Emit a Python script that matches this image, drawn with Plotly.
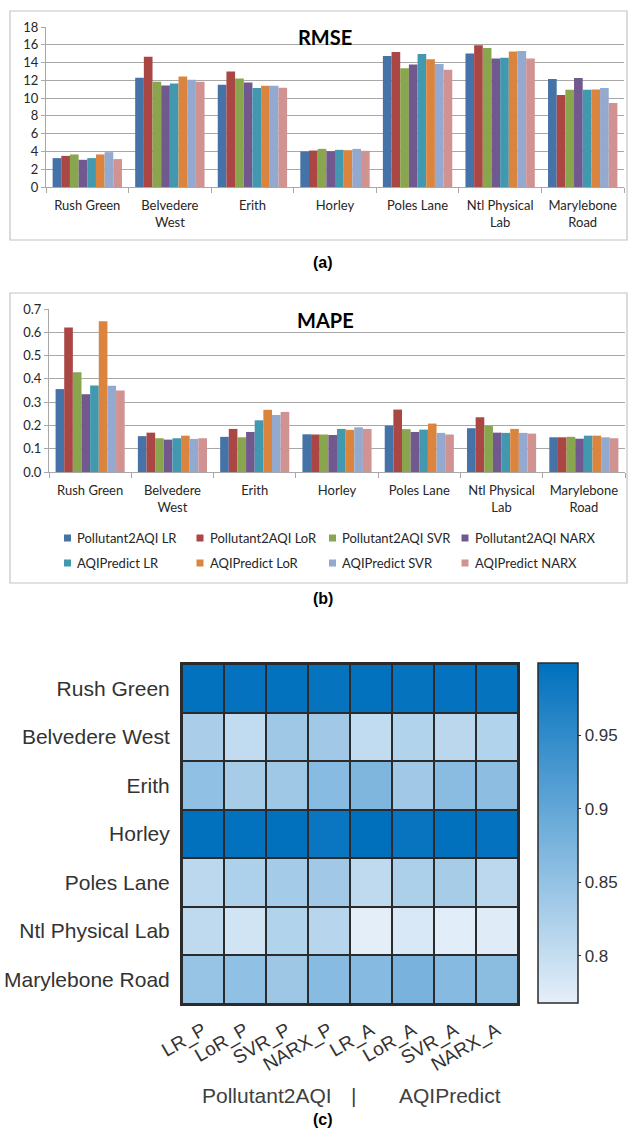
import plotly.graph_objects as go

W, H = 630, 1130

# ---------------------------------------------------------------- data
stations = ["Rush Green", "Belvedere West", "Erith", "Horley",
            "Poles Lane", "Ntl Physical Lab", "Marylebone Road"]
station_ticks = ["Rush Green", "Belvedere<br>West", "Erith", "Horley",
                 "Poles Lane", "Ntl Physical<br>Lab", "Marylebone<br>Road"]

series_names = ["Pollutant2AQI LR", "Pollutant2AQI LoR", "Pollutant2AQI SVR",
                "Pollutant2AQI NARX", "AQIPredict LR", "AQIPredict LoR",
                "AQIPredict SVR", "AQIPredict NARX"]
series_colors = ["#4572A7", "#AA4643", "#89A54E", "#71588F",
                 "#4198AF", "#DB843D", "#93A9CF", "#D19392"]

# RMSE per station
rmse_p_lr = [3.25, 12.28, 11.50, 4.00, 14.75, 15.01, 12.14]
rmse_p_lor = [3.50, 14.64, 13.00, 4.10, 15.20, 15.94, 10.34]
rmse_p_svr = [3.66, 11.84, 12.20, 4.29, 13.37, 15.65, 10.94]
rmse_p_narx = [3.06, 11.43, 11.76, 4.03, 13.78, 14.45, 12.25]
rmse_a_lr = [3.25, 11.65, 11.13, 4.18, 14.97, 14.53, 10.94]
rmse_a_lor = [3.66, 12.43, 11.39, 4.14, 14.38, 15.24, 10.98]
rmse_a_svr = [3.92, 12.06, 11.39, 4.29, 13.85, 15.31, 11.13]
rmse_a_narx = [3.14, 11.84, 11.17, 4.07, 13.18, 14.45, 9.45]

# MAPE per station
mape_p_lr = [0.356, 0.154, 0.151, 0.162, 0.199, 0.188, 0.149]
mape_p_lor = [0.621, 0.169, 0.185, 0.161, 0.268, 0.235, 0.149]
mape_p_svr = [0.428, 0.145, 0.149, 0.161, 0.184, 0.198, 0.151]
mape_p_narx = [0.334, 0.139, 0.172, 0.159, 0.172, 0.169, 0.143]
mape_a_lr = [0.372, 0.145, 0.222, 0.185, 0.182, 0.168, 0.156]
mape_a_lor = [0.647, 0.156, 0.267, 0.181, 0.208, 0.185, 0.156]
mape_a_svr = [0.370, 0.142, 0.245, 0.192, 0.168, 0.168, 0.149]
mape_a_narx = [0.350, 0.145, 0.258, 0.185, 0.161, 0.165, 0.145]

# R per station (rows) and model (columns)
models = ["LR_P", "LoR_P", "SVR_P", "NARX_P", "LR_A", "LoR_A", "SVR_A", "NARX_A"]
r_rush_green = [0.997, 0.995, 0.996, 0.994, 0.996, 0.993, 0.995, 0.994]
r_belvedere_west = [0.828, 0.804, 0.839, 0.837, 0.804, 0.819, 0.811, 0.819]
r_erith = [0.854, 0.832, 0.839, 0.862, 0.872, 0.837, 0.860, 0.857]
r_horley = [0.998, 0.997, 0.998, 0.989, 0.999, 0.991, 0.998, 0.995]
r_poles_lane = [0.810, 0.823, 0.834, 0.837, 0.806, 0.824, 0.832, 0.810]
r_ntl_physical_lab = [0.806, 0.788, 0.819, 0.814, 0.770, 0.781, 0.772, 0.774]
r_marylebone_road = [0.847, 0.854, 0.840, 0.862, 0.864, 0.877, 0.864, 0.859]

colorbar_ticks = [0.8, 0.85, 0.9, 0.95]
r_min, r_max = 0.768, 0.999

rmse_series = [rmse_p_lr, rmse_p_lor, rmse_p_svr, rmse_p_narx,
               rmse_a_lr, rmse_a_lor, rmse_a_svr, rmse_a_narx]
mape_series = [mape_p_lr, mape_p_lor, mape_p_svr, mape_p_narx,
               mape_a_lr, mape_a_lor, mape_a_svr, mape_a_narx]
r_matrix = [r_rush_green, r_belvedere_west, r_erith, r_horley,
            r_poles_lane, r_ntl_physical_lab, r_marylebone_road]


# ---------------------------------------------------------------- helpers
def px(x):
    return x / W


def py(y):
    return 1 - y / H


BAR_FONT = "Lato, 'Open Sans', sans-serif"
HM_FONT = "'Liberation Sans', Arial, sans-serif"
TXT = "#262626"
GRID = "#a8a8a8"

fig = go.Figure()

# ---------------------------------------------------------------- (a) RMSE bars
for name, color, vals in zip(series_names, series_colors, rmse_series):
    fig.add_trace(go.Bar(x=station_ticks, y=vals, name=name, marker_color=color,
                         marker_line_width=0, xaxis="x", yaxis="y",
                         showlegend=False))

# ---------------------------------------------------------------- (b) MAPE bars
for name, color, vals in zip(series_names, series_colors, mape_series):
    fig.add_trace(go.Bar(x=station_ticks, y=vals, name=name, marker_color=color,
                         marker_line_width=0, xaxis="x2", yaxis="y2",
                         showlegend=False))

# ---------------------------------------------------------------- (c) heatmap
fig.add_trace(go.Heatmap(
    z=r_matrix, x=models, y=stations, xaxis="x3", yaxis="y3",
    zmin=r_min, zmax=r_max, xgap=2, ygap=2,
    colorscale=[[0, "rgb(229,239,249)"], [1, "rgb(0,112,189)"]],
    colorbar=dict(
        x=px(538), xanchor="left", y=py(1003), yanchor="bottom",
        len=340 / H, lenmode="fraction", thickness=40, thicknessmode="pixels",
        outlinewidth=1.5, outlinecolor="#2b2b2b", xpad=0, ypad=0,
        tickvals=colorbar_ticks, ticktext=[f"{v:g}" for v in colorbar_ticks],
        ticks="outside", ticklen=3, tickcolor="#2b2b2b",
        tickfont=dict(family=HM_FONT, size=17, color="#333333"),
    ),
    hoverongaps=False,
))

bar_xaxis = dict(type="category", tickson="boundaries", ticks="outside",
                 ticklen=5, tickcolor=GRID, showline=True, linecolor=GRID,
                 linewidth=1, showgrid=False, zeroline=False, automargin=False,
                 ticklabelstandoff=6,
                 tickfont=dict(family=BAR_FONT, size=13, color=TXT))
bar_yaxis = dict(ticks="outside", ticklen=4, tickcolor=GRID, showline=True,
                 linecolor=GRID, linewidth=1, showgrid=True, gridcolor=GRID,
                 gridwidth=1, zeroline=False, automargin=False,
                 tickfont=dict(family=BAR_FONT, size=13, color=TXT))

fig.update_layout(
    width=W, height=H, autosize=False,
    margin=dict(l=0, r=0, t=0, b=0, pad=0, autoexpand=False),
    paper_bgcolor="white", plot_bgcolor="white",
    barmode="group", bargap=0.16, bargroupgap=0,
    showlegend=False,
    xaxis=dict(bar_xaxis, domain=[px(46), px(624)], anchor="y"),
    yaxis=dict(bar_yaxis, domain=[py(187), py(27)], anchor="x",
               range=[0, 18], dtick=2),
    xaxis2=dict(bar_xaxis, domain=[px(49), px(625)], anchor="y2"),
    yaxis2=dict(bar_yaxis, domain=[py(472), py(309)], anchor="x2",
                range=[0, 0.7], dtick=0.1, tickformat=".1f"),
    xaxis3=dict(domain=[px(182), px(518)], anchor="y3", type="category",
                tickangle=-30, ticks="", showline=True, mirror=True,
                linecolor="#2b2b2b", linewidth=2, showgrid=False,
                zeroline=False, automargin=False, ticklabelstandoff=6,
                tickfont=dict(family=HM_FONT, size=19, color="#333333")),
    yaxis3=dict(domain=[py(1004), py(664)], anchor="x3", type="category",
                autorange="reversed", ticks="", showline=True, mirror=True,
                linecolor="#2b2b2b", linewidth=2, showgrid=False,
                zeroline=False, ticklabelstandoff=6, automargin=False,
                tickfont=dict(family=HM_FONT, size=21, color="#333333")),
)

shapes = []
# chart frames
for top, bottom in [(11, 240), (293, 583)]:
    shapes.append(dict(type="rect", xref="paper", yref="paper",
                       x0=px(10), x1=px(627), y0=py(bottom), y1=py(top),
                       line=dict(color="#c4c4c4", width=1.2),
                       fillcolor="rgba(0,0,0,0)", layer="below"))
# dark backing behind heatmap cells so the gaps read as cell borders
shapes.append(dict(type="rect", xref="x3 domain", yref="y3 domain",
                   x0=0, x1=1, y0=0, y1=1, line=dict(width=0),
                   fillcolor="#2b2b2b", layer="below"))


def label(text, x, y, family, size, color):
    return dict(text=text, x=px(x), y=py(y), xref="paper", yref="paper",
                xanchor="center", yanchor="middle", showarrow=False,
                font=dict(family=family, size=size, color=color))


annotations = [
    label("<b>RMSE</b>", 325, 37, BAR_FONT, 20, "black"),
    label("<b>MAPE</b>", 325, 320, BAR_FONT, 20, "black"),
    label("<b>(a)</b>", 323, 262, HM_FONT, 16, "black"),
    label("<b>(b)</b>", 323, 598, HM_FONT, 16, "black"),
    label("<b>(c)</b>", 323, 1119, HM_FONT, 16, "black"),
    label("Pollutant2AQI", 267, 1095, HM_FONT, 21, "#404040"),
    label("|", 353, 1095, HM_FONT, 21, "#404040"),
    label("AQIPredict", 450, 1095, HM_FONT, 21, "#404040"),
]

# series key under the MAPE chart: four columns, two rows
for i, (name, color) in enumerate(zip(series_names, series_colors)):
    col, row = i % 4, i // 4
    sx = 64 + 132.5 * col
    sy = 538 + 25 * row
    shapes.append(dict(type="rect", xref="paper", yref="paper",
                       x0=px(sx), x1=px(sx + 7), y0=py(sy + 3.5), y1=py(sy - 3.5),
                       line=dict(width=0), fillcolor=color))
    annotations.append(dict(text=name, x=px(sx + 11), y=py(sy), xref="paper",
                            yref="paper", xanchor="left", yanchor="middle",
                            showarrow=False,
                            font=dict(family=BAR_FONT, size=13, color=TXT)))

fig.update_layout(shapes=shapes, annotations=annotations)

fig.write_html("out.html")
